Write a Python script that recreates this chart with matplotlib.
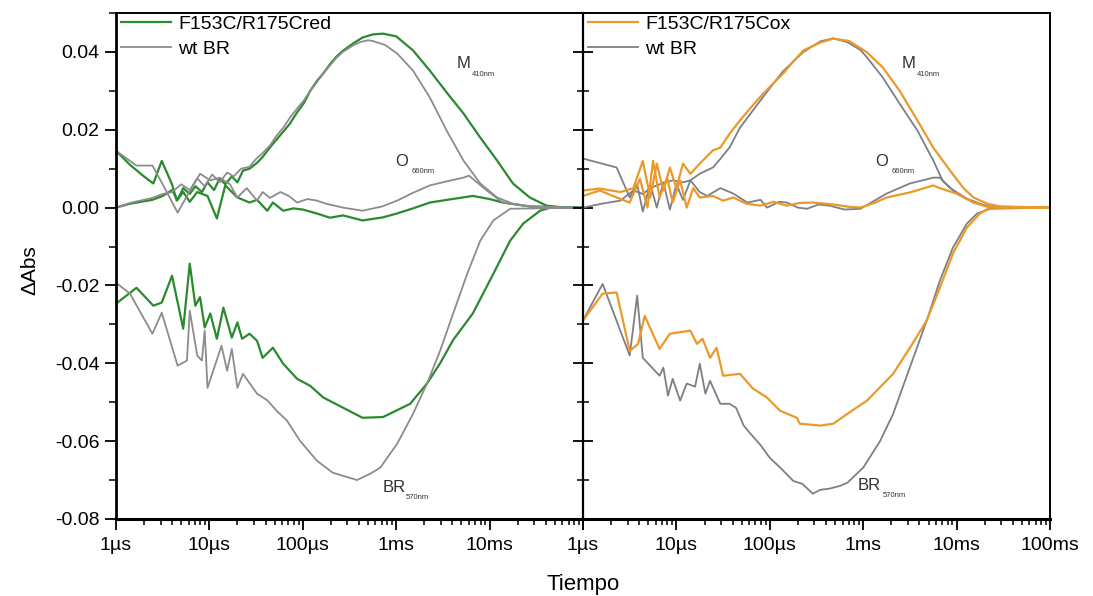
import numpy as np
import matplotlib
matplotlib.use("Agg")
import matplotlib.pyplot as plt
from matplotlib.ticker import FixedLocator, LogLocator, NullFormatter, FixedFormatter, MultipleLocator

plt.rcParams['font.family'] = ['Liberation Sans', 'DejaVu Sans']

# ---------------- data: log10(time / s) and ΔAbs ----------------
# Left panel: F153C/R175C reduced vs wild-type BR
red_M_logt = [-6.00, -5.85, -5.61, -5.50, -5.40, -5.34, -5.28, -5.21, -5.15, -5.08, -5.02, -4.95, -4.89, -4.83,
              -4.76, -4.70, -4.64, -4.57, -4.49, -4.43, -4.35, -4.28, -4.21, -4.14, -4.06, -3.99, -3.92, -3.85,
              -3.78, -3.71, -3.64, -3.57, -3.46, -3.36, -3.25, -3.14, -3.00, -2.82, -2.64, -2.46, -2.28, -2.10,
              -1.92, -1.75, -1.57, -1.39, -1.20, -1.00]
red_M_dabs = [0.0000, 0.0010, 0.0020, 0.0030, 0.0045, 0.0020, 0.0050, 0.0035, 0.0055, 0.0040, 0.0065, 0.0045,
              0.0075, 0.0060, 0.0080, 0.0065, 0.0095, 0.0100, 0.0115, 0.0130, 0.0155, 0.0175, 0.0195, 0.0215,
              0.0245, 0.0268, 0.0300, 0.0325, 0.0345, 0.0368, 0.0388, 0.0403, 0.0422, 0.0437, 0.0445, 0.0447,
              0.0440, 0.0404, 0.0352, 0.0296, 0.0242, 0.0180, 0.0121, 0.0062, 0.0026, 0.0005, 0.0000, 0.0000]

red_O_logt = [-6.00, -5.85, -5.70, -5.60, -5.51, -5.40, -5.35, -5.28, -5.21, -5.13, -5.02, -4.92, -4.83, -4.70,
              -4.57, -4.49, -4.38, -4.32, -4.21, -4.10, -4.00, -3.85, -3.71, -3.57, -3.36, -3.14, -2.99, -2.82,
              -2.64, -2.40, -2.18, -2.00, -1.86, -1.57, -1.00]
red_O_dabs = [0.0146, 0.0110, 0.0080, 0.0062, 0.0120, 0.0060, 0.0018, 0.0040, 0.0015, 0.0040, 0.0030, -0.0028,
              0.0057, 0.0026, 0.0013, 0.0020, -0.0008, 0.0013, -0.0008, -0.0002, -0.0005, -0.0015, -0.0026,
              -0.0020, -0.0033, -0.0025, -0.0015, -0.0002, 0.0013, 0.0022, 0.0030, 0.0022, 0.0013, 0.0003, 0.0000]

red_BR_logt = [-6.00, -5.78, -5.60, -5.51, -5.40, -5.28, -5.21, -5.15, -5.10, -5.05, -4.99, -4.92, -4.85, -4.76,
               -4.70, -4.65, -4.57, -4.49, -4.43, -4.32, -4.21, -4.06, -3.92, -3.78, -3.57, -3.36, -3.14, -2.85,
               -2.67, -2.53, -2.39, -2.18, -1.96, -1.78, -1.64, -1.46, -1.35, -1.00]
red_BR_dabs = [-0.0247, -0.0206, -0.0252, -0.0244, -0.0175, -0.0311, -0.0144, -0.0252, -0.0230, -0.0308, -0.0272,
               -0.0337, -0.0257, -0.0334, -0.0295, -0.0337, -0.0324, -0.0342, -0.0386, -0.0360, -0.0401, -0.0440,
               -0.0458, -0.0488, -0.0514, -0.0540, -0.0538, -0.0504, -0.0452, -0.0400, -0.0340, -0.0272, -0.0170,
               -0.0085, -0.0041, -0.0008, 0.0000, 0.0000]

wtL_M_logt = [-6.00, -5.85, -5.61, -5.50, -5.40, -5.30, -5.21, -5.13, -5.05, -4.97, -4.89, -4.81, -4.74, -4.66,
              -4.57, -4.50, -4.43, -4.35, -4.28, -4.21, -4.14, -4.06, -3.99, -3.92, -3.85, -3.78, -3.71, -3.64,
              -3.57, -3.46, -3.39, -3.30, -3.25, -3.12, -2.99, -2.82, -2.64, -2.46, -2.28, -2.10, -1.92, -1.75,
              -1.57, -1.30, -1.00]
wtL_M_dabs = [0.0000, 0.0012, 0.0025, 0.0035, 0.0040, 0.0060, 0.0045, 0.0075, 0.0055, 0.0085, 0.0065, 0.0090,
              0.0080, 0.0100, 0.0105, 0.0125, 0.0140, 0.0160, 0.0185, 0.0205, 0.0230, 0.0255, 0.0275, 0.0300,
              0.0322, 0.0345, 0.0365, 0.0385, 0.0400, 0.0417, 0.0425, 0.0430, 0.0428, 0.0418, 0.0396, 0.0352,
              0.0283, 0.0198, 0.0121, 0.0062, 0.0026, 0.0010, 0.0003, 0.0000, 0.0000]

wtL_O_logt = [-6.00, -5.78, -5.61, -5.50, -5.34, -5.24, -5.10, -4.99, -4.89, -4.78, -4.70, -4.60, -4.49, -4.43,
              -4.35, -4.24, -4.15, -4.06, -3.95, -3.85, -3.75, -3.57, -3.36, -3.15, -2.99, -2.82, -2.64, -2.45,
              -2.28, -2.22, -2.03, -1.86, -1.57, -1.00]
wtL_O_dabs = [0.0146, 0.0108, 0.0108, 0.0060, -0.0013, 0.0030, 0.0087, 0.0070, 0.0077, 0.0060, 0.0026, 0.0050,
              0.0018, 0.0040, 0.0025, 0.0040, 0.0030, 0.0013, 0.0022, 0.0018, 0.0010, 0.0000, -0.0008, 0.0003,
              0.0018, 0.0038, 0.0057, 0.0068, 0.0077, 0.0082, 0.0044, 0.0013, 0.0003, 0.0000]

wtL_BR_logt = [-6.00, -5.85, -5.61, -5.51, -5.34, -5.24, -5.21, -5.13, -5.08, -5.05, -5.02, -4.87, -4.81, -4.76,
               -4.70, -4.64, -4.49, -4.38, -4.28, -4.17, -4.03, -3.85, -3.68, -3.46, -3.42, -3.28, -3.17, -2.99,
               -2.82, -2.67, -2.53, -2.39, -2.24, -2.10, -1.96, -1.78, -1.00]
wtL_BR_dabs = [-0.0193, -0.0221, -0.0324, -0.0270, -0.0406, -0.0393, -0.0265, -0.0380, -0.0393, -0.0316, -0.0463,
               -0.0355, -0.0419, -0.0363, -0.0463, -0.0427, -0.0478, -0.0495, -0.0522, -0.0547, -0.0599, -0.0650,
               -0.0681, -0.0697, -0.0700, -0.0684, -0.0668, -0.0607, -0.0530, -0.0452, -0.0368, -0.0272, -0.0170,
               -0.0085, -0.0033, -0.0003, 0.0000]

# Right panel: F153C/R175C oxidized vs wild-type BR
ox_M_logt = [-6.00, -5.82, -5.60, -5.46, -5.36, -5.28, -5.21, -5.14, -5.07, -5.00, -4.93, -4.85, -4.75, -4.61,
             -4.53, -4.43, -4.32, -4.20, -4.07, -3.96, -3.86, -3.75, -3.64, -3.46, -3.32, -3.15, -2.96, -2.79,
             -2.61, -2.42, -2.25, -2.07, -1.93, -1.82, -1.67, -1.54, -1.00]
ox_M_dabs = [0.0044, 0.0049, 0.0040, 0.0050, 0.0120, 0.0026, 0.0113, 0.0044, 0.0103, 0.0050, 0.0113, 0.0087,
             0.0113, 0.0147, 0.0154, 0.0190, 0.0224, 0.0258, 0.0293, 0.0320, 0.0344, 0.0375, 0.0404, 0.0424,
             0.0434, 0.0428, 0.0399, 0.0360, 0.0300, 0.0224, 0.0154, 0.0095, 0.0051, 0.0026, 0.0010, 0.0003, 0.0000]

ox_O_logt = [-6.00, -5.82, -5.64, -5.50, -5.39, -5.31, -5.25, -5.18, -5.10, -5.04, -4.96, -4.89, -4.82, -4.75,
             -4.61, -4.50, -4.39, -4.25, -4.10, -3.96, -3.82, -3.68, -3.54, -3.32, -3.15, -3.03, -2.88, -2.75,
             -2.50, -2.25, -2.18, -2.00, -1.82, -1.64, -1.00]
ox_O_dabs = [0.0030, 0.0044, 0.0026, 0.0013, 0.0074, 0.0000, 0.0120, 0.0026, 0.0077, 0.0013, 0.0070, 0.0000,
             0.0050, 0.0026, 0.0030, 0.0018, 0.0026, 0.0010, 0.0005, 0.0015, 0.0005, 0.0012, 0.0013, 0.0008,
             0.0002, 0.0000, 0.0012, 0.0026, 0.0039, 0.0057, 0.0050, 0.0036, 0.0013, 0.0000, 0.0000]

ox_BR_logt = [-6.00, -5.79, -5.64, -5.50, -5.41, -5.34, -5.18, -5.07, -4.85, -4.78, -4.72, -4.64, -4.57, -4.50,
              -4.32, -4.18, -4.03, -3.89, -3.71, -3.68, -3.46, -3.32, -3.11, -2.96, -2.68, -2.50, -2.32, -2.18,
              -2.04, -1.89, -1.75, -1.64, -1.00]
ox_BR_dabs = [-0.0290, -0.0221, -0.0218, -0.0368, -0.0350, -0.0278, -0.0363, -0.0324, -0.0316, -0.0350, -0.0337,
              -0.0386, -0.0360, -0.0432, -0.0427, -0.0465, -0.0488, -0.0522, -0.0540, -0.0555, -0.0560, -0.0555,
              -0.0520, -0.0496, -0.0427, -0.0360, -0.0290, -0.0206, -0.0118, -0.0051, -0.0015, 0.0000, 0.0000]

wtR_M_logt = [-6.00, -5.80, -5.60, -5.46, -5.36, -5.28, -5.18, -5.04, -4.93, -4.85, -4.75, -4.61, -4.53, -4.43,
              -4.32, -4.18, -4.07, -3.86, -3.64, -3.46, -3.32, -3.17, -3.03, -2.96, -2.79, -2.61, -2.42, -2.25,
              -2.15, -2.00, -1.82, -1.64, -1.00]
wtR_M_dabs = [0.0000, 0.0010, 0.0018, 0.0044, 0.0035, 0.0050, 0.0060, 0.0070, 0.0065, 0.0070, 0.0087, 0.0103,
              0.0125, 0.0155, 0.0205, 0.0250, 0.0285, 0.0350, 0.0400, 0.0427, 0.0435, 0.0425, 0.0405, 0.0386,
              0.0334, 0.0267, 0.0198, 0.0121, 0.0069, 0.0036, 0.0013, 0.0003, 0.0000]

wtR_O_logt = [-6.00, -5.64, -5.50, -5.42, -5.36, -5.28, -5.21, -5.14, -5.07, -5.00, -4.93, -4.85, -4.75, -4.67,
              -4.53, -4.39, -4.24, -4.10, -4.03, -3.90, -3.82, -3.70, -3.60, -3.48, -3.36, -3.20, -3.03, -2.90,
              -2.75, -2.50, -2.25, -2.18, -2.07, -1.89, -1.64, -1.00]
wtR_O_dabs = [0.0126, 0.0103, 0.0026, 0.0060, -0.0010, 0.0060, 0.0000, 0.0065, -0.0005, 0.0060, 0.0020, 0.0070,
              0.0040, 0.0030, 0.0050, 0.0036, 0.0013, 0.0020, 0.0000, 0.0015, 0.0013, 0.0000, -0.0003, 0.0008,
              0.0005, -0.0005, -0.0003, 0.0015, 0.0036, 0.0062, 0.0077, 0.0077, 0.0050, 0.0023, 0.0000, 0.0000]

wtR_BR_logt = [-6.00, -5.79, -5.50, -5.42, -5.36, -5.18, -5.14, -5.09, -5.04, -4.96, -4.89, -4.80, -4.75, -4.69,
               -4.64, -4.53, -4.43, -4.36, -4.28, -4.21, -4.10, -4.00, -3.88, -3.75, -3.65, -3.54, -3.46, -3.36,
               -3.25, -3.17, -3.00, -2.82, -2.68, -2.53, -2.32, -2.18, -2.04, -1.89, -1.78, -1.64, -1.00]
wtR_BR_dabs = [-0.0290, -0.0196, -0.0380, -0.0226, -0.0386, -0.0432, -0.0411, -0.0483, -0.0440, -0.0496, -0.0452,
               -0.0460, -0.0401, -0.0478, -0.0445, -0.0504, -0.0504, -0.0515, -0.0560, -0.0580, -0.0610, -0.0643,
               -0.0670, -0.0702, -0.0710, -0.0735, -0.0725, -0.0722, -0.0715, -0.0707, -0.0668, -0.0600, -0.0530,
               -0.0430, -0.0290, -0.0188, -0.0103, -0.0041, -0.0015, -0.0003, 0.0000]

tick_times = [1e-6, 1e-5, 1e-4, 1e-3, 1e-2, 1e-1]
tick_labels_left = ['1µs', '10µs', '100µs', '1ms', '10ms', '']
tick_labels_right = ['1µs', '10µs', '100µs', '1ms', '10ms', '100ms']

# ---------------- styling ----------------
GREEN = '#2b8a2e'
ORANGE = '#ea9a2a'
GRAY_L = '#8c8c8c'
GRAY_R = '#7e7e86'
TICK_FS = 14

fig = plt.figure(figsize=(10.93, 5.96), dpi=100)
fig.patch.set_facecolor('white')
axL = fig.add_axes([0.1061, 0.1292, 0.4273, 0.849])
axR = fig.add_axes([0.5334, 0.1292, 0.4273, 0.849], sharey=axL)


def curve(ax, logt, dabs, color, lw, label=None):
    line, = ax.plot(10 ** np.asarray(logt), dabs, color=color, lw=lw, label=label, solid_joinstyle='round')
    return line


hL1 = curve(axL, red_M_logt, red_M_dabs, GREEN, 1.6, 'F153C/R175Cred')
curve(axL, red_O_logt, red_O_dabs, GREEN, 1.6)
curve(axL, red_BR_logt, red_BR_dabs, GREEN, 1.6)
hL2 = curve(axL, wtL_M_logt, wtL_M_dabs, GRAY_L, 1.3, 'wt BR')
curve(axL, wtL_O_logt, wtL_O_dabs, GRAY_L, 1.3)
curve(axL, wtL_BR_logt, wtL_BR_dabs, GRAY_L, 1.3)

hR2 = curve(axR, wtR_M_logt, wtR_M_dabs, GRAY_R, 1.3, 'wt BR')
curve(axR, wtR_O_logt, wtR_O_dabs, GRAY_R, 1.3)
curve(axR, wtR_BR_logt, wtR_BR_dabs, GRAY_R, 1.3)
hR1 = curve(axR, ox_M_logt, ox_M_dabs, ORANGE, 1.6, 'F153C/R175Cox')
curve(axR, ox_O_logt, ox_O_dabs, ORANGE, 1.6)
curve(axR, ox_BR_logt, ox_BR_dabs, ORANGE, 1.6)

for ax, labels in ((axL, tick_labels_left), (axR, tick_labels_right)):
    ax.set_xscale('log')
    ax.set_xlim(1e-6, 1e-1)
    ax.set_ylim(-0.08, 0.05)
    ax.xaxis.set_major_locator(FixedLocator(tick_times))
    ax.xaxis.set_major_formatter(FixedFormatter(labels))
    ax.xaxis.set_minor_locator(LogLocator(base=10, subs=np.arange(2, 10), numticks=20))
    ax.xaxis.set_minor_formatter(NullFormatter())
    ax.tick_params(axis='x', which='major', direction='out', length=8, width=1.3, pad=5,
                   labelsize=TICK_FS, top=False)
    ax.tick_params(axis='x', which='minor', direction='out', length=4, width=1.1, top=False)
    for s in ax.spines.values():
        s.set_linewidth(1.4)
    ax.spines['bottom'].set_linewidth(2.2)

axL.yaxis.set_major_locator(MultipleLocator(0.02))
axL.yaxis.set_minor_locator(MultipleLocator(0.01))
axL.yaxis.set_major_formatter(matplotlib.ticker.FuncFormatter(lambda v, p: f'{v:.2f}'))
axL.tick_params(axis='y', which='major', direction='out', length=8, width=1.3, pad=4,
                labelsize=TICK_FS, right=False)
axL.tick_params(axis='y', which='minor', direction='out', length=5, width=1.1, right=False)
axL.spines['left'].set_linewidth(2.0)
axL.spines['right'].set_visible(False)

axR.tick_params(axis='y', which='major', direction='inout', length=14, width=1.3, labelleft=False)
axR.tick_params(axis='y', which='minor', direction='inout', length=8, width=1.1, labelleft=False)
axR.spines['left'].set_linewidth(1.6)

for ax, handles in ((axL, [hL1, hL2]), (axR, [hR1, hR2])):
    ax.legend(handles=handles, loc='upper left', bbox_to_anchor=(0.01, 0.995), frameon=False, fontsize=14,
              handlelength=2.6, handletextpad=0.35, labelspacing=0.35, borderaxespad=0, borderpad=0)


# band labels with small subscripts
def band(ax, x, y, main, sub, dx, dy):
    ax.text(x, y, main, transform=ax.transAxes, fontsize=12, color='#333333', ha='left', va='center')
    ax.text(x + dx, y + dy, sub, transform=ax.transAxes, fontsize=5.5, color='#333333', ha='left', va='center')


band(axL, 0.730, 0.901, 'M', '410nm', 0.032, -0.022)
band(axL, 0.597, 0.706, 'O', '660nm', 0.035, -0.020)
band(axL, 0.572, 0.063, 'BR', '570nm', 0.049, -0.020)
band(axR, 0.683, 0.901, 'M', '410nm', 0.032, -0.022)
band(axR, 0.625, 0.706, 'O', '660nm', 0.035, -0.020)
band(axR, 0.589, 0.067, 'BR', '570nm', 0.053, -0.020)

fig.text(0.027, 0.547, 'ΔAbs', rotation=90, ha='center', va='center', fontsize=15)
fig.text(0.5334, 0.02, 'Tiempo', ha='center', va='center', fontsize=16)

fig.savefig('out.png', dpi=100, facecolor='white')
